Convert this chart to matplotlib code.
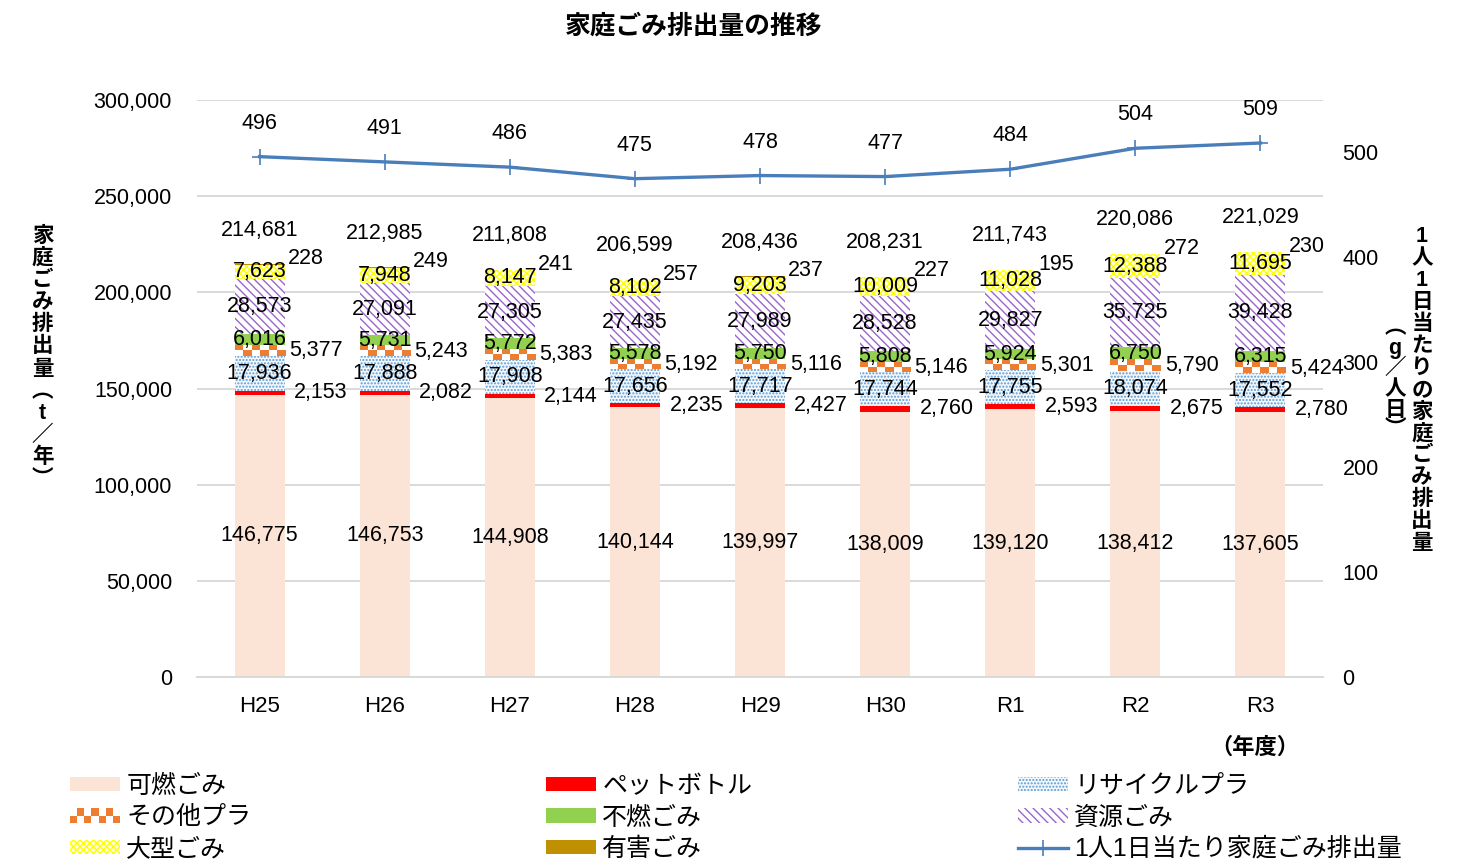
import numpy as np
import matplotlib
matplotlib.use('Agg')
import matplotlib.pyplot as plt
from matplotlib.patches import Patch, Rectangle
from matplotlib.lines import Line2D
from matplotlib.legend_handler import HandlerBase
from matplotlib.ticker import FuncFormatter

# ---------------- data ----------------
years = ['H25', 'H26', 'H27', 'H28', 'H29', 'H30', 'R1', 'R2', 'R3']
kanen = [146775, 146753, 144908, 140144, 139997, 138009, 139120, 138412, 137605]
pet = [2153, 2082, 2144, 2235, 2427, 2760, 2593, 2675, 2780]
recycle_pla = [17936, 17888, 17908, 17656, 17717, 17744, 17755, 18074, 17552]
other_pla = [5377, 5243, 5383, 5192, 5116, 5146, 5301, 5790, 5424]
funen = [6016, 5731, 5772, 5578, 5750, 5808, 5924, 6750, 6315]
shigen = [28573, 27091, 27305, 27435, 27989, 28528, 29827, 35725, 39428]
oogata = [7623, 7948, 8147, 8102, 9203, 10009, 11028, 12388, 11695]
yugai = [228, 249, 241, 257, 237, 227, 195, 272, 230]
totals = [214681, 212985, 211808, 206599, 208436, 208231, 211743, 220086, 221029]
per_capita = [496, 491, 486, 475, 478, 477, 484, 504, 509]

series_names = ['可燃ごみ', 'ペットボトル', 'リサイクルプラ', 'その他プラ',
                '不燃ごみ', '資源ごみ', '大型ごみ', '有害ごみ']
line_name = '1人1日当たり家庭ごみ排出量'

# ---------------- style ----------------
plt.rcParams['font.family'] = ['Liberation Sans', 'Noto Sans CJK JP']
plt.rcParams['hatch.linewidth'] = 1.0

C_KANEN = '#FBE3D6'
C_PET = '#FF0000'
C_RECY = '#5B9BD5'
C_OTHER = '#ED7D31'
C_FUNEN = '#92D050'
C_SHIGEN = '#9966CC'
C_OOGATA = '#FFFF00'
C_YUGAI = '#BF9000'
C_LINE = '#4A7EBB'

W, H = 1468, 867
fig = plt.figure(figsize=(W / 100, H / 100), dpi=100)
ax = fig.add_axes([197 / W, 1 - 677 / H, 1126 / W, 577 / H])

x = np.arange(len(years))
bw = 0.4

styles = [
    dict(facecolor=C_KANEN, edgecolor='none', linewidth=0),
    dict(facecolor=C_PET, edgecolor='none', linewidth=0),
    dict(facecolor='#F4F8FC', edgecolor=C_RECY, hatch='.....', linewidth=0),
    dict(facecolor='white', edgecolor='none', linewidth=0),
    dict(facecolor=C_FUNEN, edgecolor='none', linewidth=0),
    dict(facecolor='white', edgecolor=C_SHIGEN, hatch='\\\\\\\\', linewidth=0),
    dict(facecolor='#FFFFE8', edgecolor=C_OOGATA, hatch='xxxxx', linewidth=0),
    dict(facecolor=C_YUGAI, edgecolor='none', linewidth=0),
]
all_series = [kanen, pet, recycle_pla, other_pla, funen, shigen, oogata, yugai]

bottom = np.zeros(len(years))
bottoms = []
for vals, st in zip(all_series, styles):
    bottoms.append(bottom.copy())
    ax.bar(x, vals, bw, bottom=bottom, zorder=2, **st)
    bottom = bottom + np.array(vals)

# checkerboard texture for その他プラ
ny, nx = 2, 6
orange_rgb = np.array(matplotlib.colors.to_rgb(C_OTHER))
white_rgb = np.ones(3)
ii, jj = np.indices((ny, nx))
checker = np.where(((ii + jj) % 2 == 0)[..., None], orange_rgb, white_rgb)
b_other = bottoms[3]
for xi, b0, v in zip(x, b_other, other_pla):
    ax.imshow(checker, extent=(xi - bw / 2, xi + bw / 2, b0, b0 + v),
              aspect='auto', interpolation='nearest', zorder=2.1)

ax.set_xlim(-0.5, len(years) - 0.5)
ax.set_ylim(0, 300000)
ax.set_yticks(np.arange(0, 300001, 50000))
ax.yaxis.set_major_formatter(FuncFormatter(lambda v, p: f'{int(v):,}'))
ax.set_xticks(x)
ax.set_xticklabels(years)
ax.tick_params(axis='y', length=0, labelsize=15.5, pad=18)
ax.tick_params(axis='x', length=0, labelsize=16, pad=14)
ax.yaxis.grid(True, color='#D9D9D9', linewidth=1.4)
ax.set_axisbelow(True)
for s in ['top', 'left', 'right']:
    ax.spines[s].set_visible(False)
ax.spines['bottom'].set_color('#D9D9D9')
ax.spines['bottom'].set_linewidth(1.4)

# ---------------- labels on bars ----------------
LFS = 15.5
inside = [0, 2, 4, 5, 6]
for k in inside:
    for xi, b0, v in zip(x, bottoms[k], all_series[k]):
        ax.text(xi, b0 + v / 2, f'{v:,}', ha='center', va='center',
                fontsize=LFS, zorder=5)
for xi, b0, v in zip(x, bottoms[1], pet):
    ax.text(xi + 0.49, b0 + v / 2, f'{v:,}', ha='center', va='center',
            fontsize=LFS, zorder=5)
for xi, b0, v in zip(x, bottoms[3], other_pla):
    ax.text(xi + 0.45, b0 + v / 2, f'{v:,}', ha='center', va='center',
            fontsize=LFS, zorder=5)
for xi, b0, v in zip(x, bottoms[7], yugai):
    ax.annotate(f'{v:,}', (xi + 0.37, b0 + v), xytext=(0, 4),
                textcoords='offset points', ha='center', va='center',
                fontsize=LFS, zorder=5)
for xi, t in zip(x, totals):
    ax.annotate(f'{t:,}', (xi, t), xytext=(0, 24.5), textcoords='offset points',
                ha='center', va='center', fontsize=LFS, zorder=5)

# ---------------- line on secondary axis ----------------
ax2 = ax.twinx()
ax2.set_ylim(0, 550)
ax2.set_yticks(np.arange(0, 501, 100))
ax2.plot(x, per_capita, color=C_LINE, linewidth=2.4, marker='+',
         markersize=12, markeredgewidth=1.2, zorder=3)
for xi, v in zip(x, per_capita):
    ax2.annotate(f'{v}', (xi, v), xytext=(0, 24), textcoords='offset points',
                 ha='center', va='center', fontsize=LFS)
ax2.tick_params(axis='y', length=0, labelsize=15.5, pad=14)
for s in ax2.spines.values():
    s.set_visible(False)

# ---------------- titles / axis labels ----------------
fig.text(694 / W, 1 - 26 / H, '家庭ごみ排出量の推移', ha='center', va='center',
         fontsize=18.5, fontweight='bold')
fig.text(1255 / W, 1 - 748 / H, '（年度）', ha='center', va='center',
         fontsize=16, fontweight='bold')


def vtext(chars, xc, y0, step, fs):
    for i, ch in enumerate(chars):
        fig.text(xc / W, 1 - (y0 + i * step) / H, ch, ha='center', va='center',
                 fontsize=fs, fontweight='bold')


vtext(list('家庭ごみ排出量') + ['︵', 't', '／', '年', '︶'], 42.5, 236, 22.2, 15.5)
vtext(list('1人1日当たりの家庭ごみ排出量'), 1422, 237, 21.9, 15.5)
vtext(['︵', 'g', '／', '人', '日', '︶'], 1395, 328, 20.5, 15.5)


# ---------------- legend ----------------
class CheckerHandler(HandlerBase):
    def create_artists(self, legend, orig_handle, xdescent, ydescent,
                       width, height, fontsize, trans):
        arts = []
        nxh, nyh = 7, 2
        for i in range(nxh):
            for j in range(nyh):
                if (i + j) % 2 == 0:
                    arts.append(Rectangle((-xdescent + i * width / nxh,
                                           -ydescent + j * height / nyh),
                                          width / nxh, height / nyh,
                                          facecolor=C_OTHER, linewidth=0,
                                          transform=trans))
        return arts


handles = [Patch(**st) for st in styles]
other_handle = Patch(facecolor='white')
handles[3] = other_handle
line_handle = Line2D([], [], color=C_LINE, linewidth=2.4, marker='+',
                     markersize=12, markeredgewidth=1.2)

cols = [[0, 3, 6], [1, 4, 7], [2, 5, None]]
col_x = [70, 546, 1018]
for cx, idxs in zip(col_x, cols):
    hs, ls = [], []
    for k in idxs:
        if k is None:
            hs.append(line_handle)
            ls.append(line_name)
        else:
            hs.append(handles[k])
            ls.append(series_names[k])
    fig.legend(hs, ls, loc='upper left', bbox_to_anchor=(cx / W, 1 - 774 / H),
               frameon=False, fontsize=18, handlelength=2.0, handleheight=0.52,
               handletextpad=0.25, labelspacing=0.3, borderpad=0,
               borderaxespad=0, numpoints=1,
               handler_map={other_handle: CheckerHandler()})

fig.savefig('out.png', dpi=100)
